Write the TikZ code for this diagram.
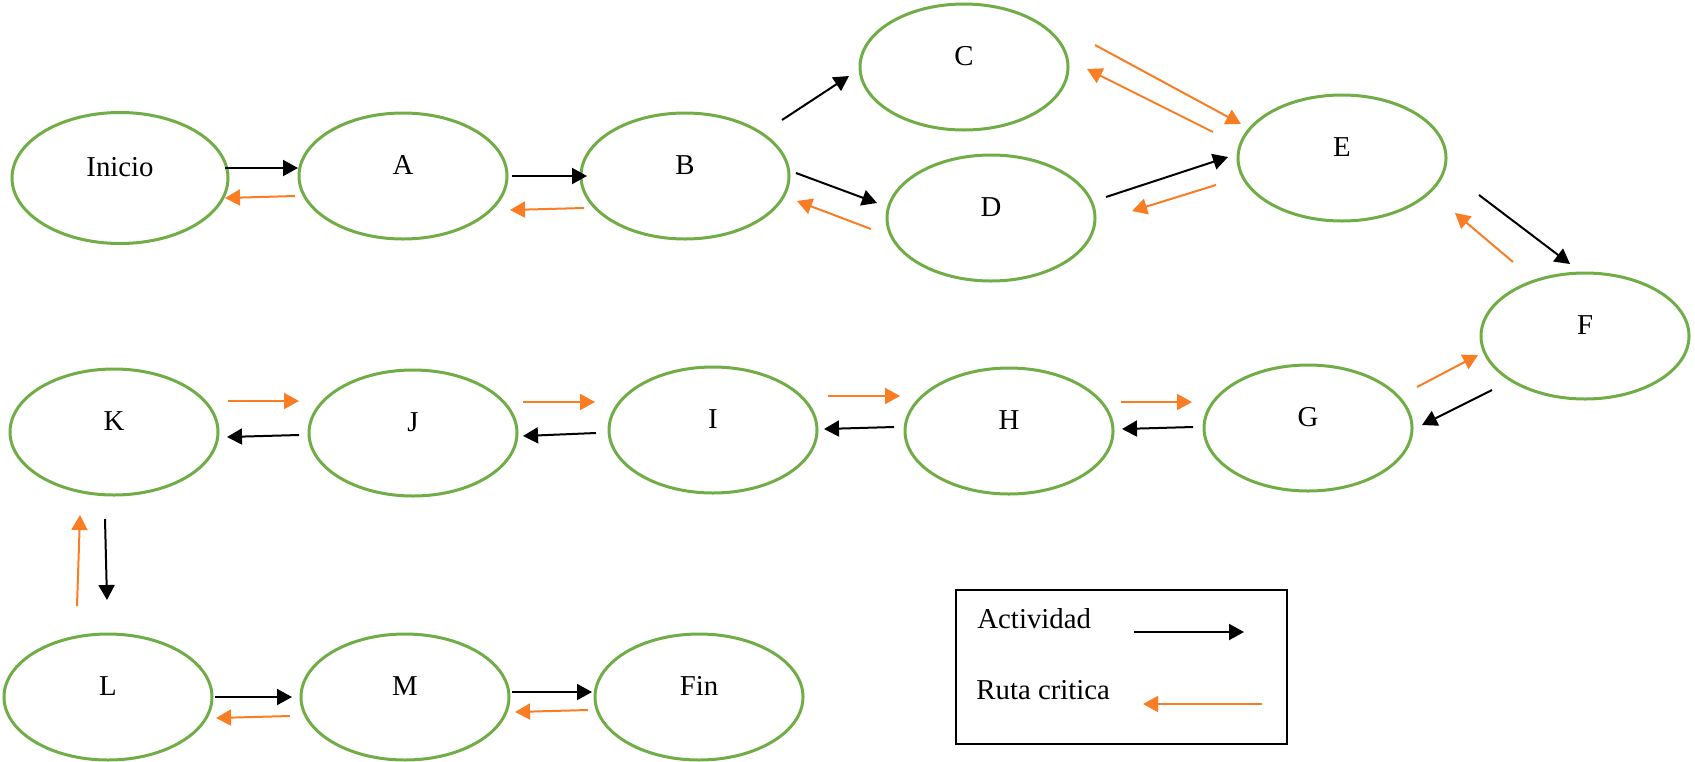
\documentclass[tikz,border=0pt]{standalone}
\usepackage{fontspec}
\setmainfont{Liberation Serif}
\usetikzlibrary{shapes.geometric,arrows.meta}
\definecolor{verde}{RGB}{112,173,71}
\definecolor{naranja}{RGB}{250,125,35}
\tikzset{
  actividad/.style={ellipse,draw=verde,line width=1.5pt,minimum width=104pt,minimum height=63pt,
    inner sep=0pt,text height=9.5pt,text depth=11pt,font=\fontsize{14.4}{17}\selectfont},
  act/.style={line width=1pt,-{Triangle[length=7.5pt,width=8pt]}},
  ruta/.style={act,naranja},
}
\begin{document}
\begin{tikzpicture}[x=0.5pt,y=-0.5pt]
	\useasboundingbox (0,0) rectangle (1695,761);
	% nodos de la red
	\node[actividad,minimum width=108pt,minimum height=65.5pt] (Inicio) at (120,178) {Inicio};
	\node[actividad] (A) at (403,176) {A};
	\node[actividad] (B) at (685,176) {B};
	\node[actividad] (C) at (964,67) {C};
	\node[actividad] (D) at (991,218) {D};
	\node[actividad] (E) at (1342,158) {E};
	\node[actividad] (F) at (1585,336) {F};
	\node[actividad] (G) at (1308,428) {G};
	\node[actividad] (H) at (1009,431) {H};
	\node[actividad] (I) at (713,430) {I};
	\node[actividad] (J) at (413,433) {J};
	\node[actividad] (K) at (114,432) {K};
	\node[actividad] (L) at (108,697) {L};
	\node[actividad] (M) at (405,697) {M};
	\node[actividad] (Fin) at (699,697) {Fin};
	% actividades (negro) y ruta critica (naranja)
	\draw[act] ([shift={(105,-10)}]Inicio.center) -- ([shift={(-105,-8)}]A.center);
	\draw[ruta] ([shift={(-108,20)}]A.center) -- ([shift={(105,20)}]Inicio.center);
	\draw[act] ([shift={(109,0)}]A.center) -- ([shift={(-98,0)}]B.center);
	\draw[ruta] ([shift={(-101,32)}]B.center) -- ([shift={(107,34)}]A.center);
	\draw[act] ([shift={(97,-56)}]B.center) -- ([shift={(-115,9)}]C.center);
	\draw[act] ([shift={(111,-3)}]B.center) -- ([shift={(-114,-15)}]D.center);
	\draw[ruta] ([shift={(-120,11)}]D.center) -- ([shift={(112,25)}]B.center);
	\draw[ruta] ([shift={(131,-22)}]C.center) -- ([shift={(-101,-34)}]E.center);
	\draw[ruta] ([shift={(-129,-26)}]E.center) -- ([shift={(123,2)}]C.center);
	\draw[act] ([shift={(115,-21)}]D.center) -- ([shift={(-114,-1)}]E.center);
	\draw[ruta] ([shift={(-126,27)}]E.center) -- ([shift={(141,-7)}]D.center);
	\draw[act] ([shift={(137,37)}]E.center) -- ([shift={(-15,-72)}]F.center);
	\draw[ruta] ([shift={(-72,-74)}]F.center) -- ([shift={(113,55)}]E.center);
	\draw[act] ([shift={(-93,54)}]F.center) -- ([shift={(114,-3)}]G.center);
	\draw[ruta] ([shift={(109,-41)}]G.center) -- ([shift={(-107,19)}]F.center);
	\draw[act] ([shift={(-115,-1)}]G.center) -- ([shift={(113,-2)}]H.center);
	\draw[ruta] ([shift={(112,-29)}]H.center) -- ([shift={(-116,-26)}]G.center);
	\draw[act] ([shift={(-115,-4)}]H.center) -- ([shift={(111,-1)}]I.center);
	\draw[ruta] ([shift={(115,-34)}]I.center) -- ([shift={(-109,-35)}]H.center);
	\draw[act] ([shift={(-117,3)}]I.center) -- ([shift={(110,3)}]J.center);
	\draw[ruta] ([shift={(110,-31)}]J.center) -- ([shift={(-118,-28)}]I.center);
	\draw[act] ([shift={(-114,2)}]J.center) -- ([shift={(113,5)}]K.center);
	\draw[ruta] ([shift={(114,-31)}]K.center) -- ([shift={(-114,-32)}]J.center);
	\draw[act] ([shift={(-9,87)}]K.center) -- ([shift={(-1,-97)}]L.center);
	\draw[ruta] ([shift={(-31,-91)}]L.center) -- ([shift={(-34,83)}]K.center);
	\draw[act] ([shift={(107,0)}]L.center) -- ([shift={(-113,0)}]M.center);
	\draw[ruta] ([shift={(-115,19)}]M.center) -- ([shift={(108,21)}]L.center);
	\draw[act] ([shift={(107,-5)}]M.center) -- ([shift={(-107,-5)}]Fin.center);
	\draw[ruta] ([shift={(-111,13)}]Fin.center) -- ([shift={(110,15)}]M.center);
	% leyenda
	\draw[line width=1pt] (956,590) rectangle (1287,744);
	\node[anchor=west,inner sep=0pt,font=\fontsize{14.4}{17}\selectfont] (actividad) at (977,619) {Actividad};
	\node[anchor=west,inner sep=0pt,font=\fontsize{14.4}{17}\selectfont] (ruta) at (976,690) {Ruta critica};
	\coordinate (act1) at (1134,632);
	\coordinate (act2) at (1244,632);
	\coordinate (ruta1) at (1262,704);
	\coordinate (ruta2) at (1143,704);
	\draw[act] (act1) -- (act2);
	\draw[ruta] (ruta1) -- (ruta2);
\end{tikzpicture}
\end{document}
